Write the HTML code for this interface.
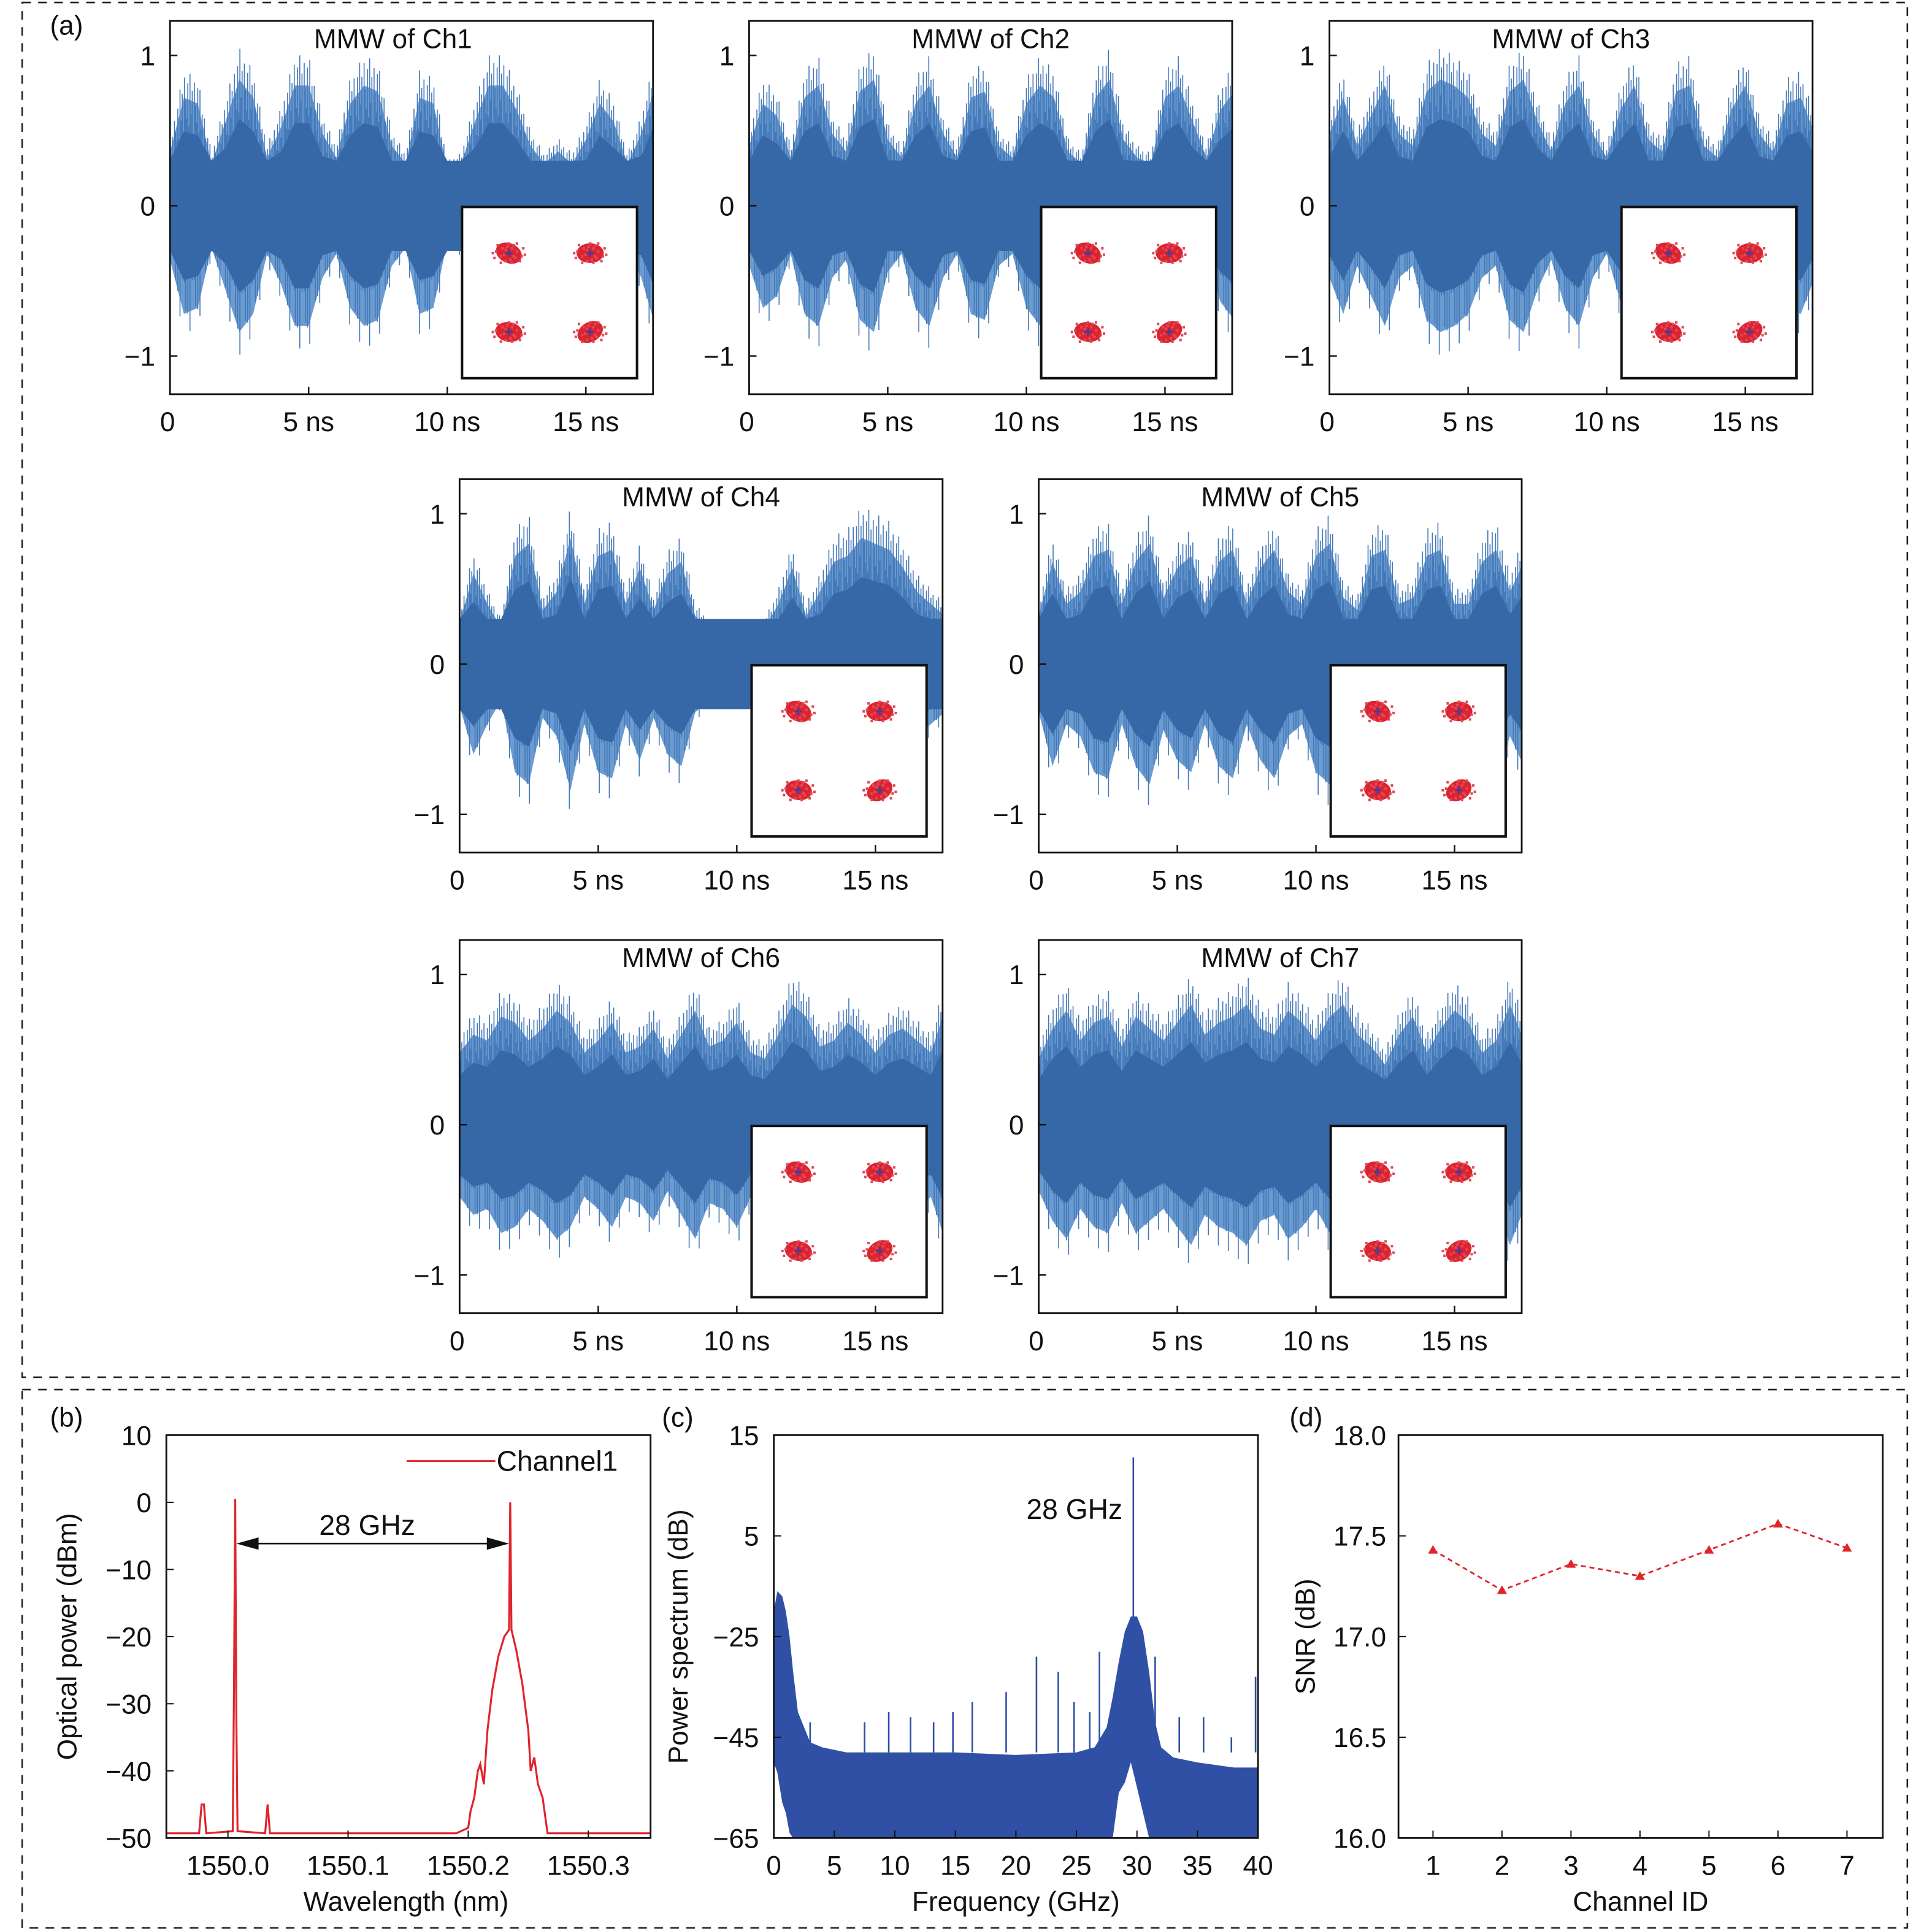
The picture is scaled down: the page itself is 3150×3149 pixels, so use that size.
<!DOCTYPE html>
<html><head><meta charset="utf-8">
<style>
html,body{margin:0;padding:0;background:#fff;}
svg{display:block;}
text{font-family:"Liberation Sans",sans-serif;fill:#111;}
</style></head>
<body>
<svg id="root" width="3150" height="3149" viewBox="0 0 1568 1567.5" preserveAspectRatio="none" xmlns="http://www.w3.org/2000/svg"></svg>
<script>
// ---- Data ----
const timeStepNs = 0.5;
const ch1Env = [0.45,0.9,0.85,0.35,0.7,1.05,0.9,0.4,0.65,1.0,1.0,0.6,0.4,0.85,1.0,0.95,0.5,0.35,0.9,0.85,0.3,0.35,0.7,1.0,1.0,0.8,0.5,0.35,0.45,0.35,0.55,0.85,0.7,0.35,0.6,1.0];
const ch2Env = [0.5,0.85,0.75,0.4,0.9,1.0,0.6,0.45,0.95,1.05,0.55,0.4,0.85,1.0,0.6,0.4,0.9,0.95,0.5,0.4,0.85,1.0,0.9,0.45,0.35,0.9,1.05,0.55,0.4,0.35,0.9,1.0,0.7,0.4,0.8,0.95];
const ch3Env = [0.6,0.9,0.5,0.75,1.0,0.6,0.5,0.95,1.05,1.0,0.9,0.6,0.5,0.95,1.05,0.7,0.45,0.85,1.0,0.6,0.4,0.8,1.0,0.55,0.45,0.95,1.0,0.5,0.4,0.8,1.0,0.6,0.45,0.85,0.9,0.6];
const ch4Env = [0.35,0.75,0.5,0.3,0.9,1.0,0.45,0.6,1.05,0.5,0.9,0.95,0.5,0.8,0.45,0.75,0.85,0.4,0.3,0.25,0.2,0.25,0.3,0.5,0.8,0.4,0.6,0.85,0.9,1.05,1.0,0.95,0.8,0.6,0.5,0.4];
const ch5Env = [0.4,0.85,0.5,0.6,0.9,0.95,0.5,0.85,1.0,0.55,0.8,0.9,0.5,0.85,0.95,0.5,0.8,0.95,0.6,0.5,0.9,1.0,0.55,0.45,0.9,0.95,0.5,0.55,0.9,0.95,0.5,0.5,0.85,0.95,0.6,0.85];
const ch6Env = [0.6,0.75,0.7,0.9,0.85,0.7,0.8,0.95,0.85,0.6,0.7,0.85,0.6,0.65,0.8,0.55,0.75,0.95,0.65,0.7,0.85,0.6,0.55,0.75,1.0,0.9,0.65,0.7,0.85,0.75,0.6,0.75,0.8,0.7,0.6,0.95];
const ch7Env = [0.55,0.8,0.95,0.7,0.85,0.9,0.65,0.9,0.8,0.7,0.85,1.0,0.75,0.85,0.9,1.0,0.8,0.75,0.95,0.85,0.7,0.9,1.0,0.75,0.65,0.5,0.75,0.9,0.6,0.8,0.95,0.85,0.6,0.7,1.0,0.7];
const xTickLabels = ["0","5 ns","10 ns","15 ns"];
const xTickValues = [0,5,10,15];
const yTickLabels = ["1","0","\u22121"];
const yTickValues = [1,0,-1];
const constI = [-1,1,-1,1];
const constQ = [1,1,-1,-1];
const constTilt = [25,0,10,-30];

// (b) optical spectrum
const optWl =  [1549.949,1549.976,1549.978,1549.98,1549.982,1550.004,1550.005,1550.006,1550.007,1550.008,1550.031,1550.033,1550.035,1550.19,1550.2,1550.202,1550.205,1550.208,1550.21,1550.213,1550.216,1550.22,1550.225,1550.23,1550.234,1550.235,1550.236,1550.24,1550.245,1550.25,1550.252,1550.255,1550.258,1550.262,1550.266,1550.353];
const optDbm = [-49.3,-49.3,-45,-45,-49.3,-49,-28,0.5,-32,-49,-49.3,-45,-49.3,-49.3,-48.5,-46,-44,-40,-39,-42,-34,-28,-23,-20,-19,0,-19,-22,-27,-34,-40,-38,-42,-44,-49.3,-49.3];
const optYTicks = [10,0,-10,-20,-30,-40,-50];
const optXTicks = [1550.0,1550.1,1550.2,1550.3];

// (c) power spectrum
const psFreq =  [0,0.3,0.7,1,1.3,1.6,2,2.5,3,4,6,10,15,20,25,26.5,27.5,28,28.5,29,29.5,30,30.5,31,31.5,32,33,35,38,40];
const psUpper = [-20,-16,-17,-20,-25,-32,-40,-43,-46,-47,-48,-48,-48,-48.5,-48,-47,-43,-37,-30,-24,-21,-21,-24,-32,-42,-47,-49,-50,-51,-51];
const psLower = [-50,-52,-58,-60,-64,-65,-65,-65,-65,-65,-65,-65,-65,-65,-65,-65,-65,-65,-56,-54,-50,-55,-60,-65,-65,-65,-65,-65,-65,-65];
const psSpurF = [2.4,3,7.5,9.5,11.3,13.2,14.8,16.4,19.2,21.7,23.5,24.8,26.1,26.9,29.7,31.5,33.5,35.5,37.8,39.8];
const psSpurV = [-44,-42,-42,-40,-41,-42,-40,-38,-36,-29,-32,-38,-40,-28,10.6,-29,-41,-41,-45,-33];
const psYTickLabels = ["15","5","\u221225","\u221245","\u221265"];
const psYTickValues = [15,-5,-25,-45,-65];
const psXTicks = [0,5,10,15,20,25,30,35,40];

// (d) SNR
const snrChannels = [1,2,3,4,5,6,7];
const snrValues = [17.43,17.23,17.36,17.30,17.43,17.56,17.44];
const snrYTicks = [18.0,17.5,17.0,16.5,16.0];

// ---- Rendering ----
const NS="http://www.w3.org/2000/svg";
const root=document.getElementById('root');
function mk(tag,attrs,parent){const e=document.createElementNS(NS,tag);for(const k in attrs)e.setAttribute(k,attrs[k]);(parent||root).appendChild(e);return e;}
function txt(s,x,y,size,anchor,parent,extra){const t=mk('text',Object.assign({x:x,y:y,'font-size':size,'text-anchor':anchor||'middle'},extra||{}),parent);t.textContent=s;return t;}

const f1=mk('rect',{x:18,y:2,width:1530,height:1116,fill:'none',stroke:'#222','stroke-width':1.3,'stroke-dasharray':'7,6'});


const f2=mk('rect',{x:18,y:1128,width:1530,height:437,fill:'none',stroke:'#222','stroke-width':1.3,'stroke-dasharray':'7,6'});


const la=txt('(a)',54,28,22,'middle');



function waveform(x0,y0,env,name){
  const W=392,H=303;
  const g=mk('g',{});
  
  
  const zeroY=y0+150, amp=122, pxPerNs=22.5;
  const X=t=>x0+t*pxPerNs, Y=v=>zeroY-v*amp;
  const clipId='clip'+name;
  const cp=mk('clipPath',{id:clipId},g);mk('rect',{x:x0,y:y0,width:W,height:H},cp);
  const inner=mk('g',{'clip-path':'url(#'+clipId+')'},g);
  const envAt=t=>{const i=t/timeStepNs;const a=Math.floor(i),b=Math.min(a+1,env.length-1);const f=i-a;return env[Math.min(a,env.length-1)]*(1-f)+env[b]*f;};
  let pts=[];
  for(let i=0;i<env.length;i++)pts.push(X(i*timeStepNs)+','+Y(env[i]*0.8));
  for(let i=env.length-1;i>=0;i--)pts.push(X(i*timeStepNs)+','+Y(-env[i]*0.8));
  const poly=mk('polygon',{points:pts.join(' '),fill:'#6b9bcf'},inner);
  
  
  const pattern=[1,0.7,0.88,0.55,0.95,0.78,0.65,0.92,0.6];
  let d='';
  let k=0;
  for(let t=0;t<=17.45;t+=0.04,k++){
    const e=envAt(t)*pattern[k%pattern.length];
    d+='M'+X(t).toFixed(1)+','+Y(e).toFixed(1)+'V'+Y(-e*pattern[(k+4)%pattern.length]).toFixed(1);
  }
  mk('path',{d:d,stroke:'#4277b8','stroke-width':0.8,fill:'none'},inner);
  let cpts=[];
  for(let i=0;i<env.length;i++)cpts.push(X(i*timeStepNs)+','+Y(Math.max(0.3,env[i]*0.55)));
  for(let i=env.length-1;i>=0;i--)cpts.push(X(i*timeStepNs)+','+Y(-Math.max(0.3,env[i]*0.55)));
  mk('polygon',{points:cpts.join(' '),fill:'#3667a6'},inner);
  mk('rect',{x:x0,y:y0,width:W,height:H,fill:'none',stroke:'#111','stroke-width':1.4},g);
  xTickValues.forEach((v,i)=>{mk('line',{x1:X(v),x2:X(v),y1:y0+H,y2:y0+H-6,stroke:'#111','stroke-width':1.2},g);txt(xTickLabels[i],X(v)+(i?0:-2),y0+H+30,22,'middle',g);});
  yTickValues.forEach((v,i)=>{mk('line',{x1:x0,x2:x0+6,y1:Y(v),y2:Y(v),stroke:'#111','stroke-width':1.2},g);txt(yTickLabels[i],x0-12,Y(v)+8,22,'end',g);});
  const ti=txt('MMW of '+name.replace('waveform-',''),x0+W/2+(name.endsWith('Ch1')?-15:0),y0+22,22,'middle',g);
  
  
  const ix=x0+237, iy=y0+151, iw=142, ih=139;
  const ins=mk('g',{},g);
  
  
  mk('rect',{x:ix,y:iy,width:iw,height:ih,fill:'#fff',stroke:'#111','stroke-width':2},ins);
  const CX=v=>ix+iw/2+v*33, CY=v=>iy+ih/2-v*32;
  const offs=[[0,0],[3,2],[-3,1],[2,-3],[-2,-2],[5,-1],[-5,2],[1,4],[-1,-4],[4,3],[-4,-3],[8,2],[-8,-1],[2,6],[-2,5],[0,-6],[9,-3],[-9,3],[3,-5],[7,5],[-7,-5],[10,1],[-10,0],[5,-6],[-5,6]];
  constI.forEach((ci,j)=>{
    const cx=CX(ci),cy=CY(constQ[j]);
    mk('ellipse',{cx:cx,cy:cy,rx:11,ry:8,fill:'#dc2430',transform:'rotate('+constTilt[j]+' '+cx+' '+cy+')'},ins);
    offs.forEach(o=>mk('rect',{x:cx+o[0]*1.3-1,y:cy+o[1]*1.3-1,width:2,height:2,fill:'#e04a55'},ins));
    mk('path',{d:'M'+(cx-3)+','+cy+'H'+(cx+3)+'M'+cx+','+(cy-3)+'V'+(cy+3),stroke:'#4a3a9a','stroke-width':1.5},ins);
  });
}
waveform(138,17,ch1Env,'waveform-Ch1');
waveform(608,17,ch2Env,'waveform-Ch2');
waveform(1079,17,ch3Env,'waveform-Ch3');
waveform(373,389,ch4Env,'waveform-Ch4');
waveform(843,389,ch5Env,'waveform-Ch5');
waveform(373,763,ch6Env,'waveform-Ch6');
waveform(843,763,ch7Env,'waveform-Ch7');

// ---- (b) ----
(function(){
  const x0=135,y0=1165,W=393,H=327;
  const g=mk('g',{});
  
  
  const X=w=>185+(w-1550.0)*975, Y=v=>y0+(10-v)*H/60;
  txt('(b)',54,1158,22,'middle',g);
  const cp=mk('clipPath',{id:'clipb'},g);mk('rect',{x:x0,y:y0,width:W,height:H},cp);
  let d='';optWl.forEach((w,i)=>{d+=(i?'L':'M')+X(w).toFixed(1)+','+Y(optDbm[i]).toFixed(1);});
  const p=mk('path',{d:d,stroke:'#e0242c','stroke-width':1.6,fill:'none','clip-path':'url(#clipb)'},g);
  
  
  mk('rect',{x:x0,y:y0,width:W,height:H,fill:'none',stroke:'#111','stroke-width':1.4},g);
  optYTicks.forEach(v=>{mk('line',{x1:x0,x2:x0+6,y1:Y(v),y2:Y(v),stroke:'#111'},g);txt(v<0?'\u2212'+(-v):String(v),x0-12,Y(v)+8,22,'end',g);});
  optXTicks.forEach(v=>{mk('line',{x1:X(v),x2:X(v),y1:y0+H,y2:y0+H-6,stroke:'#111'},g);txt(v.toFixed(1),X(v),y0+H+30,22,'middle',g);});
  const xt=txt('Wavelength (nm)',x0+W/2-2,1551,22,'middle',g);
  
  const yt=txt('Optical power (dBm)',62,y0+H/2,22,'middle',g,{transform:'rotate(-90 62 '+(y0+H/2)+')'});
  
  const lg=mk('g',{},g);
  
  
  mk('line',{x1:330,x2:402,y1:1186,y2:1186,stroke:'#e0242c','stroke-width':1.5},lg);
  txt('Channel1',403,1194,23,'start',lg);
  const ar=mk('g',{},g);
  
  
  const a1=X(1550.006)+1,a2=X(1550.235)-1;
  mk('line',{x1:a1+14,x2:a2-14,y1:1253,y2:1253,stroke:'#111','stroke-width':1.3},ar);
  mk('polygon',{points:a1+',1253 '+(a1+18)+',1248 '+(a1+18)+',1258',fill:'#111'},ar);
  mk('polygon',{points:a2+',1253 '+(a2-18)+',1248 '+(a2-18)+',1258',fill:'#111'},ar);
  txt('28 GHz',298,1246,23,'middle',ar);
})();

// ---- (c) ----
(function(){
  const x0=628,y0=1165,W=393,H=327;
  const g=mk('g',{});
  
  
  const X=f=>x0+f*W/40, Y=v=>y0+(15-v)*H/80;
  txt('(c)',550,1158,22,'middle',g);
  let pts=[];
  psFreq.forEach((f,i)=>pts.push(X(f).toFixed(1)+','+Y(psUpper[i]).toFixed(1)));
  for(let i=psFreq.length-1;i>=0;i--)pts.push(X(psFreq[i]).toFixed(1)+','+Y(psLower[i]).toFixed(1));
  const poly=mk('polygon',{points:pts.join(' '),fill:'#3050a6'},g);
  
  
  let d='';psSpurF.forEach((f,i)=>{d+='M'+X(f).toFixed(1)+','+Y(-48)+'V'+Y(psSpurV[i]).toFixed(1);});
  const sp=mk('path',{d:d,stroke:'#3050a6','stroke-width':1.3},g);
  
  
  mk('rect',{x:x0,y:y0,width:W,height:H,fill:'none',stroke:'#111','stroke-width':1.4},g);
  psYTickValues.forEach((v,i)=>{mk('line',{x1:x0,x2:x0+6,y1:Y(v),y2:Y(v),stroke:'#111'},g);txt(psYTickLabels[i],x0-12,Y(v)+8,22,'end',g);});
  psXTicks.forEach(v=>{mk('line',{x1:X(v),x2:X(v),y1:y0+H,y2:y0+H-6,stroke:'#111'},g);txt(String(v),X(v),y0+H+30,22,'middle',g);});
  const xt=txt('Frequency (GHz)',x0+W/2,1551,22,'middle',g);
  
  const yt=txt('Power spectrum (dB)',558,y0+H/2,22,'middle',g,{transform:'rotate(-90 558 '+(y0+H/2)+')'});
  
  const an=txt('28 GHz',872,1233,23,'middle',g);
  
})();

// ---- (d) ----
(function(){
  const x0=1135,y0=1165,W=393,H=327;
  const g=mk('g',{});
  
  
  const X=c=>1163+(c-1)*56, Y=v=>y0+(18-v)*H/2;
  txt('(d)',1060,1158,22,'middle',g);
  mk('rect',{x:x0,y:y0,width:W,height:H,fill:'none',stroke:'#111','stroke-width':1.4},g);
  snrYTicks.forEach(v=>{mk('line',{x1:x0,x2:x0+6,y1:Y(v),y2:Y(v),stroke:'#111'},g);txt(v.toFixed(1),x0-10,Y(v)+8,22,'end',g);});
  snrChannels.forEach(c=>{mk('line',{x1:X(c),x2:X(c),y1:y0+H,y2:y0+H-6,stroke:'#111'},g);txt(String(c),X(c),y0+H+30,22,'middle',g);});
  let d='';snrChannels.forEach((c,i)=>{d+=(i?'L':'M')+X(c)+','+Y(snrValues[i]).toFixed(1);});
  const ln=mk('path',{d:d,stroke:'#e0242c','stroke-width':1.4,fill:'none','stroke-dasharray':'4,3'},g);
  
  
  snrChannels.forEach((c,i)=>{
    const x=X(c),y=Y(snrValues[i]);
    const m=mk('polygon',{points:x+','+(y-4)+' '+(x-4)+','+(y+3)+' '+(x+4)+','+(y+3),fill:'#e0242c'},g);
    
    
  });
  const xt=txt('Channel ID',x0+W/2,1551,22,'middle',g);
  
  const yt=txt('SNR (dB)',1067,y0+H/2,22,'middle',g,{transform:'rotate(-90 1067 '+(y0+H/2)+')'});
  
})();
</script>
</body></html>
